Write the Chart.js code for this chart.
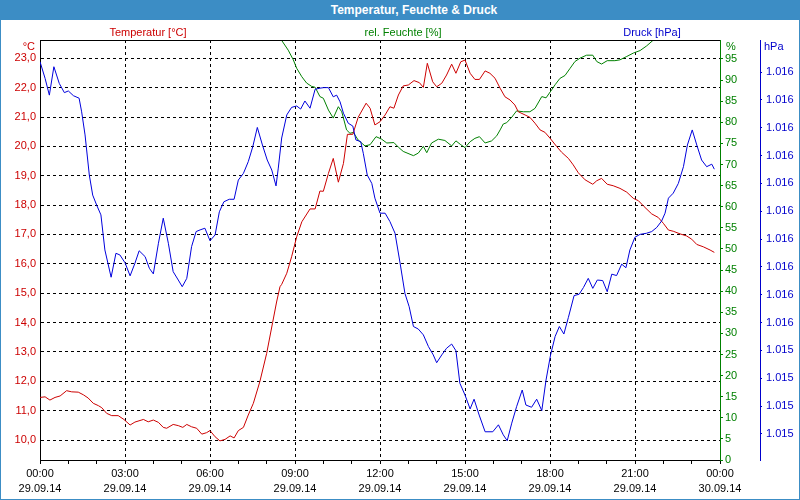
<!DOCTYPE html>
<html>
<head>
<meta charset="utf-8">
<title>Temperatur, Feuchte & Druck</title>
<script src="https://cdn.jsdelivr.net/npm/chart.js@4.4.0/dist/chart.umd.min.js"></script>
<style>
    body { margin: 0; background: #fff; }
    #wrap { position: relative; width: 800px; height: 500px; overflow: hidden; font-family: "Liberation Sans", Arial, sans-serif; }
    #chart { position: absolute; left: 0; top: 0; }
    #frame { position: absolute; left: 0; top: 0; width: 798px; height: 498px; border: 1px solid #3c8dc5; pointer-events: none; }
    #titlebar { position: absolute; left: 0; top: 0; width: 800px; height: 20px; background: #3c8dc5; }
    #title { position: absolute; left: 414px; top: 3px; transform: translateX(-50%); color: #fff; font-weight: bold; font-size: 12px; line-height: 14px; white-space: nowrap; }
    .lbl { position: absolute; font-size: 11px; line-height: 13px; white-space: nowrap; }
    .mid { transform: translateX(-50%); }
</style>
</head>
<body>
<div id="wrap">
    <canvas id="chart" width="800" height="500"></canvas>
    <div id="titlebar"><div id="title">Temperatur, Feuchte &amp; Druck</div></div>
    <div class="lbl mid" style="left:148px;top:26px;color:#cc0000">Temperatur [°C]</div>
    <div class="lbl mid" style="left:403px;top:26px;color:#008000">rel. Feuchte [%]</div>
    <div class="lbl mid" style="left:652px;top:26px;color:#0000cc">Druck [hPa]</div>
    <div class="lbl" style="right:765px;top:40px;color:#cc0000">°C</div>
    <div class="lbl" style="left:726px;top:40px;color:#008000">%</div>
    <div class="lbl" style="left:764px;top:40px;color:#0000cc">hPa</div>
    <div id="frame"></div>
</div>
<script>
// time of day in hours (0 = 29.09.14 00:00)
var tempHours = [
    0.00, 0.18, 0.35, 0.53, 0.71, 0.94, 1.12, 1.35, 1.53, 1.70,
    1.88, 2.06, 2.18, 2.35, 2.53, 2.76, 2.96, 3.18, 3.35, 3.65,
    3.82, 4.00, 4.18, 4.35, 4.47, 4.70, 4.88, 5.04, 5.18, 5.35,
    5.53, 5.71, 5.88, 6.00, 6.18, 6.35, 6.53, 6.71, 6.85, 7.00,
    7.18, 7.35, 7.53, 7.76, 8.00, 8.21, 8.35, 8.47, 8.53, 8.71,
    8.88, 9.06, 9.24, 9.53, 9.71, 9.88, 10.00, 10.18, 10.35, 10.53,
    10.71, 10.85, 11.04, 11.23, 11.51, 11.65, 11.82, 12.00, 12.18, 12.35,
    12.49, 12.65, 12.82, 13.00, 13.20, 13.39, 13.53, 13.67, 13.86, 14.00,
    14.18, 14.35, 14.53, 14.68, 14.85, 15.00, 15.18, 15.35, 15.51, 15.71,
    15.88, 16.06, 16.24, 16.41, 16.59, 16.76, 16.88, 17.12, 17.29, 17.47,
    17.65, 17.82, 18.00, 18.24, 18.41, 18.65, 18.82, 19.00, 19.24, 19.51,
    19.65, 19.82, 20.02, 20.23, 20.47, 20.71, 20.94, 21.12, 21.32, 21.59,
    21.82, 22.00, 22.18, 22.35, 22.59, 22.82, 23.00, 23.18, 23.41, 23.65,
    23.80
];
var tempValues = [
    11.45, 11.47, 11.36, 11.45, 11.50, 11.68, 11.64, 11.63, 11.54, 11.43,
    11.25, 11.17, 11.10, 10.91, 10.83, 10.83, 10.70, 10.51, 10.61, 10.70,
    10.62, 10.68, 10.60, 10.43, 10.40, 10.53, 10.49, 10.43, 10.53, 10.45,
    10.40, 10.20, 10.25, 10.32, 10.11, 9.97, 10.02, 10.14, 10.07, 10.32,
    10.43, 10.85, 11.25, 11.99, 12.95, 14.00, 14.70, 15.22, 15.30, 15.68,
    16.24, 16.92, 17.43, 17.87, 17.87, 18.48, 18.47, 19.08, 19.59, 18.78,
    19.42, 20.41, 20.41, 20.99, 21.47, 21.30, 20.73, 20.84, 21.07, 21.35,
    21.30, 21.75, 22.06, 22.09, 22.24, 22.17, 22.01, 22.83, 22.20, 22.03,
    22.15, 22.43, 22.80, 22.49, 22.88, 22.94, 22.49, 22.28, 22.28, 22.57,
    22.49, 22.32, 21.98, 21.69, 21.58, 21.41, 21.18, 21.07, 20.99, 20.79,
    20.56, 20.48, 20.28, 19.99, 19.80, 19.59, 19.37, 19.10, 18.86, 18.71,
    18.83, 18.91, 18.71, 18.66, 18.57, 18.44, 18.23, 18.15, 17.95, 17.70,
    17.58, 17.38, 17.15, 17.11, 17.02, 16.95, 16.84, 16.66, 16.58, 16.47,
    16.39
];

var humHours = [
    0.00, 8.47, 8.76, 8.94, 9.06, 9.24, 9.41, 9.59, 9.71, 9.88,
    10.00, 10.18, 10.35, 10.53, 10.65, 10.82, 10.94, 11.06, 11.23, 11.47,
    11.65, 11.86, 12.06, 12.24, 12.49, 12.65, 12.82, 13.18, 13.35, 13.53,
    13.65, 13.82, 14.06, 14.29, 14.53, 14.68, 14.85, 15.00, 15.18, 15.35,
    15.51, 15.71, 15.94, 16.12, 16.24, 16.35, 16.47, 16.65, 16.82, 17.06,
    17.29, 17.47, 17.71, 17.86, 18.06, 18.18, 18.35, 18.53, 18.71, 18.88,
    19.06, 19.29, 19.51, 19.65, 19.82, 20.02, 20.29, 20.47, 20.71, 20.94,
    21.18, 21.41, 21.65, 21.80, 23.80
];
var humValues = [
    100, 100, 97.1, 94.8, 92.8, 90.8, 89.3, 88.5, 88.3, 86.1,
    85.7, 82.9, 81.0, 83.7, 82.5, 78.2, 77.4, 77.6, 75.8, 74.4,
    74.7, 76.6, 76.0, 75.1, 75.2, 74.1, 73.1, 72.1, 72.7, 74.3,
    72.8, 75.1, 76.0, 75.7, 74.4, 75.6, 74.7, 74.0, 75.4, 76.2,
    76.6, 75.1, 75.6, 76.8, 78.2, 79.6, 79.9, 81.2, 82.7, 82.5,
    82.5, 83.3, 86.1, 85.8, 87.7, 88.9, 90.4, 91.1, 92.8, 94.4,
    95.2, 95.9, 95.9, 94.4, 93.8, 94.6, 94.6, 94.8, 95.6, 96.4,
    97.0, 98.1, 99.5, 100, 100
];

var pressHours = [
    0.00, 0.18, 0.33, 0.49, 0.68, 0.86, 1.00, 1.18, 1.38, 1.47,
    1.59, 1.74, 1.86, 2.00, 2.15, 2.29, 2.51, 2.68, 2.82, 3.00,
    3.18, 3.35, 3.50, 3.71, 3.86, 4.00, 4.18, 4.35, 4.53, 4.70,
    4.88, 5.02, 5.18, 5.35, 5.51, 5.65, 5.82, 6.00, 6.18, 6.33,
    6.49, 6.68, 6.85, 7.00, 7.18, 7.35, 7.51, 7.67, 7.85, 8.02,
    8.18, 8.33, 8.41, 8.53, 8.71, 8.88, 9.06, 9.20, 9.35, 9.53,
    9.71, 9.88, 10.02, 10.18, 10.35, 10.47, 10.59, 10.71, 10.88, 11.04,
    11.15, 11.32, 11.41, 11.55, 11.71, 11.82, 12.00, 12.18, 12.35, 12.53,
    12.71, 12.88, 13.03, 13.18, 13.35, 13.53, 13.71, 13.88, 14.00, 14.18,
    14.35, 14.53, 14.68, 14.82, 15.00, 15.18, 15.32, 15.50, 15.71, 15.98,
    16.18, 16.35, 16.49, 16.65, 16.82, 17.02, 17.15, 17.35, 17.53, 17.71,
    17.86, 18.02, 18.18, 18.33, 18.49, 18.65, 18.85, 19.03, 19.18, 19.35,
    19.51, 19.67, 19.86, 20.02, 20.18, 20.35, 20.53, 20.68, 20.82, 21.00,
    21.18, 21.41, 21.59, 21.77, 21.94, 22.06, 22.18, 22.35, 22.53, 22.71,
    22.85, 23.02, 23.18, 23.35, 23.53, 23.71, 23.80
];
var pressValues = [
    1016.437, 1016.377, 1016.317, 1016.419, 1016.359, 1016.326, 1016.332, 1016.315, 1016.306, 1016.257,
    1016.174, 1016.030, 1015.958, 1015.922, 1015.887, 1015.761, 1015.663, 1015.749, 1015.743, 1015.715,
    1015.668, 1015.713, 1015.758, 1015.737, 1015.695, 1015.675, 1015.785, 1015.875, 1015.785, 1015.683,
    1015.653, 1015.629, 1015.659, 1015.773, 1015.827, 1015.833, 1015.839, 1015.794, 1015.815, 1015.898,
    1015.934, 1015.943, 1015.943, 1016.012, 1016.036, 1016.078, 1016.132, 1016.201, 1016.138, 1016.084,
    1016.048, 1015.991, 1016.055, 1016.163, 1016.246, 1016.273, 1016.278, 1016.267, 1016.296, 1016.270,
    1016.338, 1016.342, 1016.344, 1016.344, 1016.311, 1016.317, 1016.293, 1016.252, 1016.216, 1016.206,
    1016.156, 1016.150, 1016.108, 1016.030, 1016.000, 1015.947, 1015.893, 1015.893, 1015.863, 1015.821,
    1015.713, 1015.605, 1015.557, 1015.486, 1015.477, 1015.456, 1015.414, 1015.384, 1015.356, 1015.384,
    1015.408, 1015.423, 1015.399, 1015.282, 1015.240, 1015.190, 1015.225, 1015.168, 1015.108, 1015.108,
    1015.133, 1015.097, 1015.076, 1015.139, 1015.198, 1015.258, 1015.204, 1015.196, 1015.225, 1015.184,
    1015.294, 1015.384, 1015.450, 1015.486, 1015.459, 1015.519, 1015.597, 1015.602, 1015.626, 1015.659,
    1015.623, 1015.653, 1015.651, 1015.611, 1015.674, 1015.669, 1015.710, 1015.697, 1015.761, 1015.807,
    1015.817, 1015.821, 1015.827, 1015.842, 1015.865, 1015.893, 1015.947, 1015.965, 1016.000, 1016.060,
    1016.138, 1016.192, 1016.138, 1016.084, 1016.060, 1016.069, 1016.051
];

// axis ticks
var timeLabels = ["00:00", "03:00", "06:00", "09:00", "12:00", "15:00", "18:00", "21:00", "00:00"];
var dateLabels = ["29.09.14", "29.09.14", "29.09.14", "29.09.14", "29.09.14", "29.09.14", "29.09.14", "29.09.14", "30.09.14"];
var tempTicks = [10, 11, 12, 13, 14, 15, 16, 17, 18, 19, 20, 21, 22, 23];
var humTicks = [0, 5, 10, 15, 20, 25, 30, 35, 40, 45, 50, 55, 60, 65, 70, 75, 80, 85, 90, 95];
var pressTicks = [1015.1, 1015.2, 1015.3, 1015.4, 1015.5, 1015.6, 1015.7, 1015.8, 1015.9, 1016.0, 1016.1, 1016.2, 1016.3, 1016.4];

function toPoints(hours, values) {
    return hours.map(function (h, i) { return { x: h, y: values[i] }; });
}

function fixTicks(list) {
    return function (scale) {
        scale.ticks = list.map(function (v) { return { value: v }; });
    };
}

var tickFont = { family: "'Liberation Sans', Arial, sans-serif", size: 11 };

// black line along the top of the plot
var topFrame = {
    id: 'topFrame',
    afterDatasetsDraw: function (chart) {
        var ctx = chart.ctx, a = chart.chartArea;
        ctx.save();
        ctx.strokeStyle = '#000';
        ctx.lineWidth = 1;
        ctx.beginPath();
        ctx.moveTo(a.left, a.top + 0.5);
        ctx.lineTo(a.right, a.top + 0.5);
        ctx.stroke();
        ctx.restore();
    }
};

var chart = new Chart(document.getElementById('chart'), {
    type: 'line',
    data: {
        datasets: [{
            label: 'Druck [hPa]',
            data: toPoints(pressHours, pressValues),
            yAxisID: 'yP',
            borderColor: '#0000dd',
            borderWidth: 1,
            pointRadius: 0,
            tension: 0
        }, {
            label: 'Temperatur [°C]',
            data: toPoints(tempHours, tempValues),
            yAxisID: 'yT',
            borderColor: '#cc0000',
            borderWidth: 1,
            pointRadius: 0,
            tension: 0
        }, {
            label: 'rel. Feuchte [%]',
            data: toPoints(humHours, humValues),
            yAxisID: 'yH',
            borderColor: '#008000',
            borderWidth: 1,
            pointRadius: 0,
            tension: 0
        }]
    },
    plugins: [topFrame],
    options: {
        responsive: false,
        animation: false,
        devicePixelRatio: 1,
        layout: { padding: { top: 40, left: 0, right: 0, bottom: 0 } },
        plugins: {
            legend: { display: false },
            tooltip: { enabled: false }
        },
        scales: {
            x: {
                type: 'linear',
                position: 'bottom',
                min: 0,
                max: 24,
                afterBuildTicks: function (scale) {
                    var t = [];
                    for (var h = 0; h <= 24; h++) t.push({ value: h });
                    scale.ticks = t;
                },
                afterFit: function (scale) { scale.height = 40; },
                ticks: {
                    autoSkip: false,
                    maxRotation: 0,
                    color: '#000',
                    font: { family: tickFont.family, size: 11, lineHeight: 1.35 },
                    padding: 3,
                    callback: function (v) {
                        if (v % 3 !== 0) return '';
                        return [timeLabels[v / 3], dateLabels[v / 3]];
                    }
                },
                grid: {
                    color: function (c) { return c.tick && c.tick.value % 3 === 0 ? '#000' : 'rgba(0,0,0,0)'; },
                    tickColor: '#000',
                    tickLength: 4
                },
                border: { color: '#000', width: 1, dash: [3, 3] }
            },
            yT: {
                type: 'linear',
                position: 'left',
                min: 9.319,
                max: 23.623,
                afterBuildTicks: fixTicks(tempTicks),
                afterFit: function (scale) { scale.width = 40; },
                ticks: {
                    color: '#cc0000',
                    font: tickFont,
                    padding: 4,
                    callback: function (v) { return v.toFixed(1).replace('.', ','); }
                },
                grid: { color: '#000', drawTicks: false },
                border: { color: '#000', width: 1, dash: [3, 3] }
            },
            yH: {
                type: 'linear',
                position: 'right',
                weight: 0,
                min: 0,
                max: 99.5,
                afterBuildTicks: fixTicks(humTicks),
                afterFit: function (scale) { scale.width = 40; },
                ticks: {
                    color: '#008000',
                    font: tickFont,
                    padding: 2
                },
                grid: { drawOnChartArea: false, tickLength: 3, tickColor: '#008000', color: '#008000' },
                border: { color: '#008000', width: 1 }
            },
            yP: {
                type: 'linear',
                position: 'right',
                weight: 1,
                min: 1015.0066,
                max: 1016.515,
                afterBuildTicks: fixTicks(pressTicks),
                afterFit: function (scale) { scale.width = 40; },
                ticks: {
                    color: '#0000cc',
                    font: tickFont,
                    padding: 4,
                    callback: function (v) {
                        var r = Math.round(v);
                        return Math.floor(r / 1000) + '.' + String(r % 1000).padStart(3, '0');
                    }
                },
                grid: { drawOnChartArea: false, tickLength: 2, tickColor: '#0000cc', color: '#0000cc' },
                border: { color: '#0000cc', width: 1 }
            }
        }
    }
});
</script>
</body>
</html>
